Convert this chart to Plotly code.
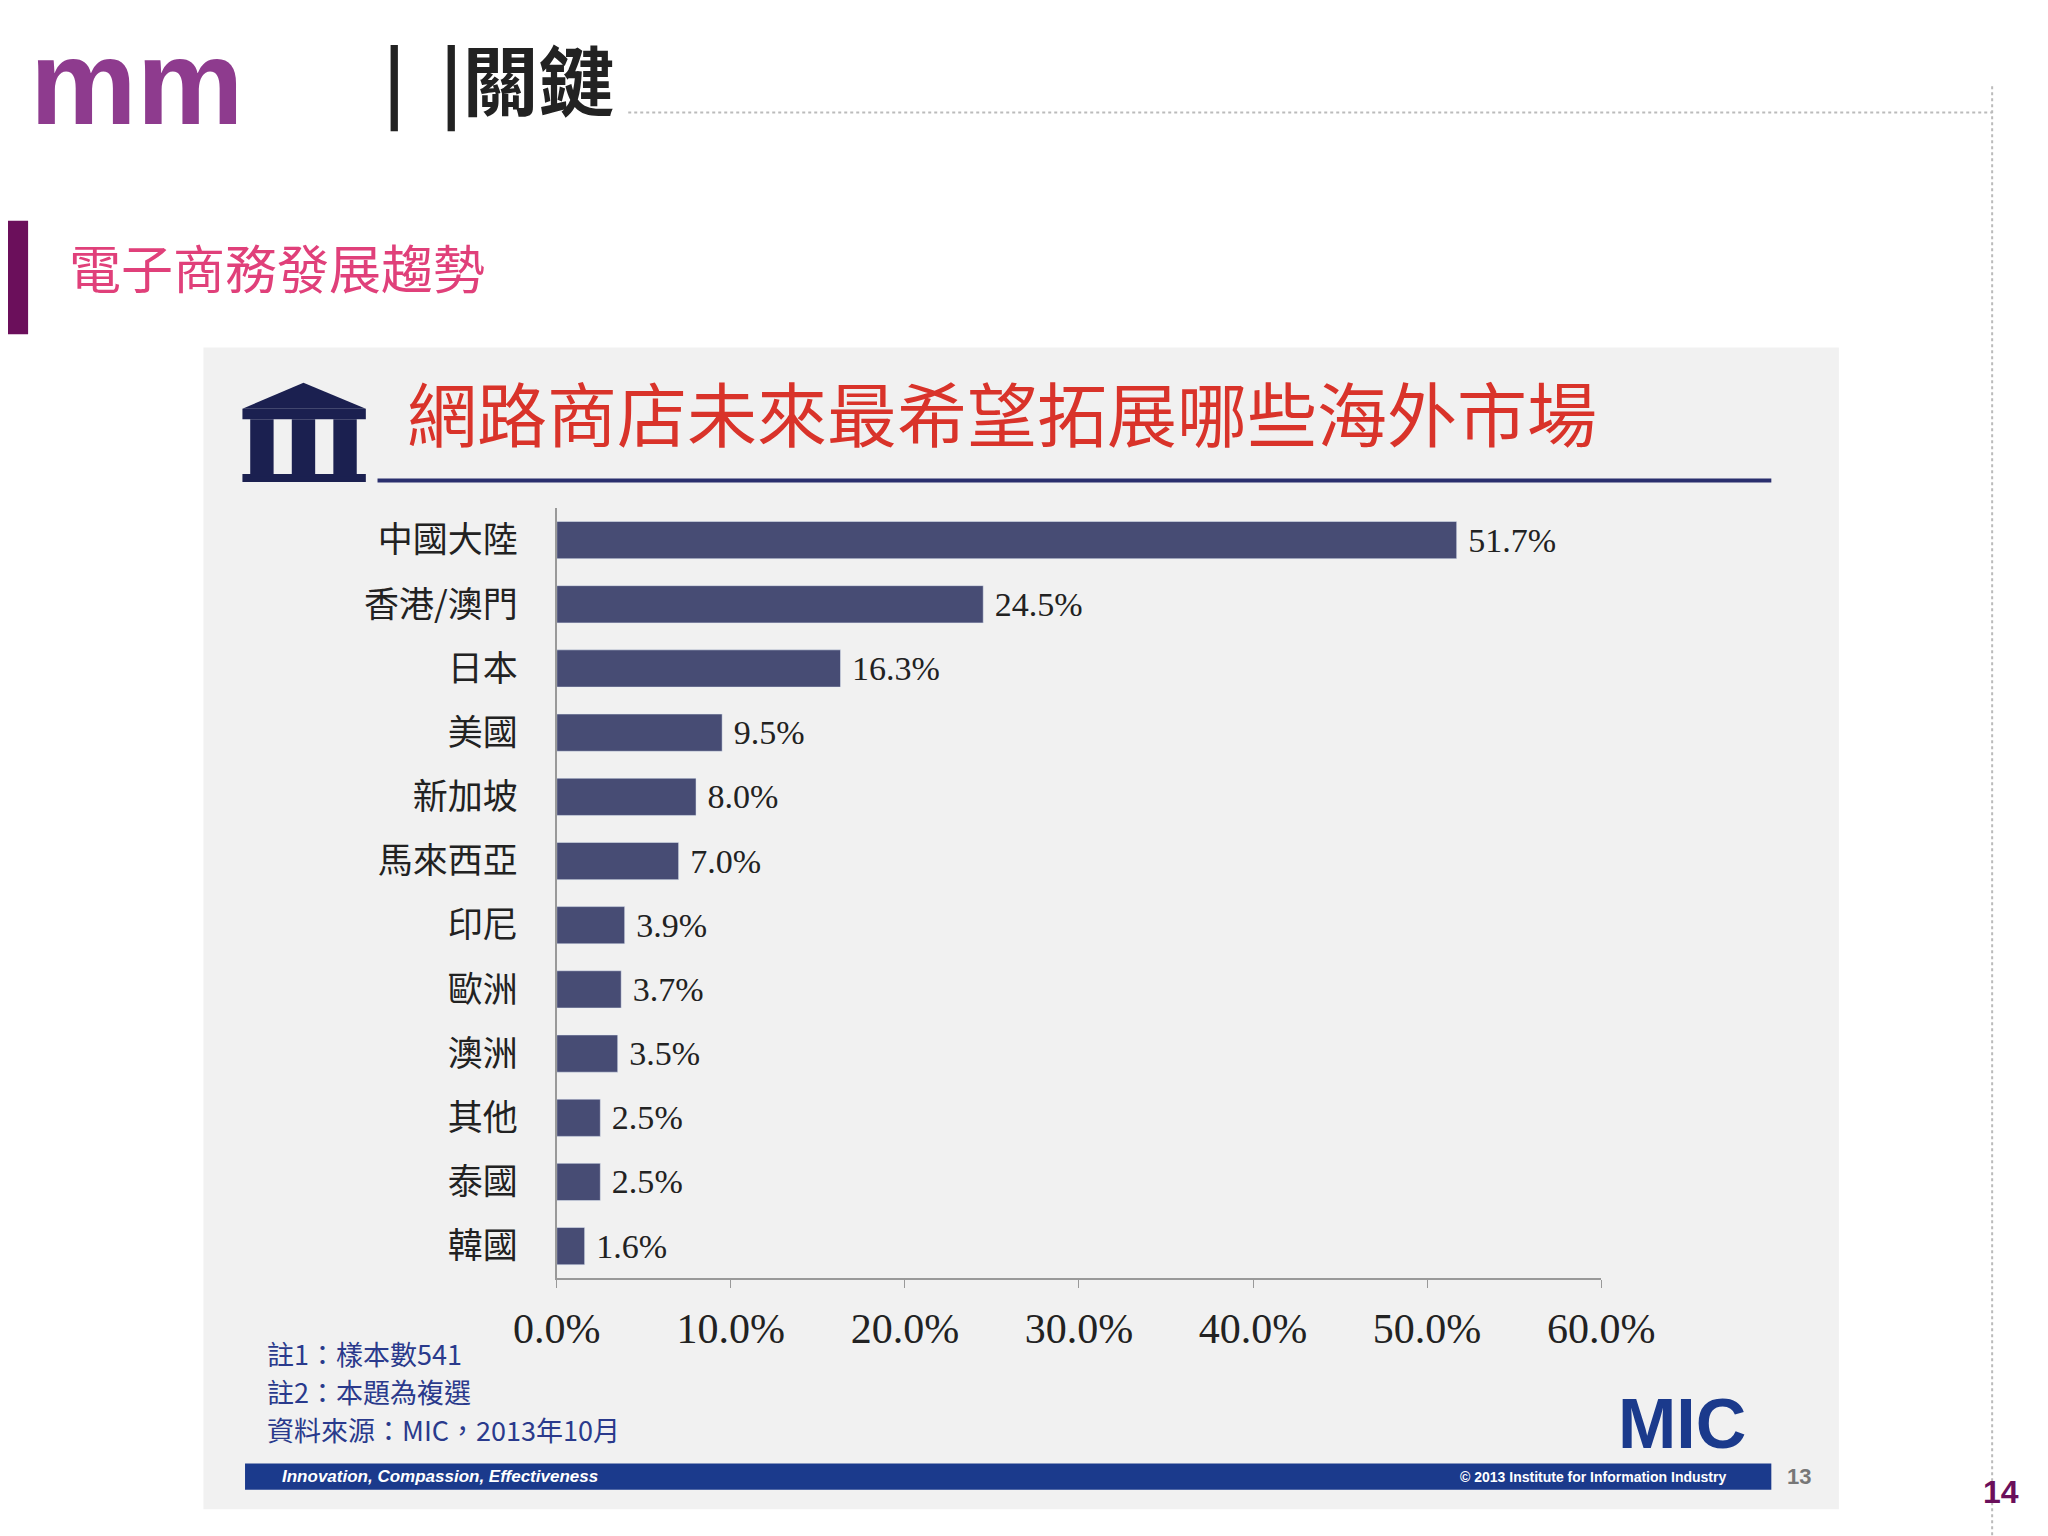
import plotly.graph_objects as go

categories = ["中國大陸","香港/澳門","日本","美國","新加坡","馬來西亞","印尼","歐洲","澳洲","其他","泰國","韓國"]
values = [51.7,24.5,16.3,9.5,8.0,7.0,3.9,3.7,3.5,2.5,2.5,1.6]
tick_vals = [0,10,20,30,40,50,60]

W,H = 2048,1536
def px(r): return (r-36.4)/0.733/W
def py(r): return 1-(r-5)/0.766/H

fig = go.Figure(go.Bar(
    y=categories, x=values, orientation="h", marker_color="#474C74",
    width=0.58, text=[f" {v:.1f}%" for v in values], textposition="outside",
    textfont=dict(family="Liberation Serif", size=43, color="#222"), cliponaxis=False))

fig.update_layout(
    width=W, height=H, margin=dict(l=0,r=0,t=0,b=0),
    paper_bgcolor="white", plot_bgcolor="rgba(0,0,0,0)", showlegend=False,
    xaxis=dict(domain=[px(425),px(1229)], range=[0,60], tickvals=tick_vals,
               ticktext=[f"{t:.1f}%" for t in tick_vals], showgrid=False, zeroline=False,
               showline=True, linecolor="#999", linewidth=2, ticks="outside", ticklen=8,
               tickcolor="#999", tickfont=dict(family="Liberation Serif", size=42, color="#222"),
               ticklabelstandoff=4),
    yaxis=dict(domain=[py(978),py(388)], autorange="reversed", showgrid=False,
               showline=True, linecolor="#999", linewidth=2, ticks="",
               tickfont=dict(family="Noto Sans CJK TC", size=35, color="#222"), ticklabelstandoff=30),
    bargap=0.42,
)

def rect(x0,x1,y0,y1,color,**kw):
    return dict(type="rect", xref="paper", yref="paper", x0=px(x0), x1=px(x1), y0=py(y1), y1=py(y0),
                fillcolor=color, line_width=0, **kw)

shapes = [
    rect(153,1412,265,1155,"#F1F1F1",layer="below"),
    rect(0,18,168,255,"#6B0F5B"),
    dict(type="line", xref="paper", yref="paper", x0=px(287), x1=px(1360), y0=py(367), y1=py(367),
         line=dict(color="#2A2F6E", width=4)),
    rect(185,1360,1120,1140,"#1B3A8C"),
    dict(type="line", xref="paper", yref="paper", x0=px(480), x1=px(1530), y0=py(85), y1=py(85),
         line=dict(color="#BBB", width=2, dash="dot")),
    dict(type="line", xref="paper", yref="paper", x0=px(1530), x1=px(1530), y0=py(65), y1=py(1176),
         line=dict(color="#BBB", width=2, dash="dot")),
    dict(type="path", xref="paper", yref="paper",
         path=f"M {px(183)},{py(312)} L {px(230)},{py(292)} L {px(278)},{py(312)} Z",
         fillcolor="#1B2050", line_width=0),
    rect(183,278,312,320,"#1B2050"),
    rect(183,278,362,368,"#1B2050"),
]
for cx in [198, 230, 262]:
    shapes.append(rect(cx-9,cx+9,320,364,"#1B2050"))
fig.update_layout(shapes=shapes)

ann = [
    dict(x=px(18), y=py(62), text="<b>mm</b>", font=dict(family="Arial", size=120, color="#8E3B8E"),
         xanchor="left", yanchor="middle"),
    dict(x=px(290), y=py(58), text="<b>|  |關鍵</b>", font=dict(family="Noto Sans CJK TC", size=76, color="#222"),
         xanchor="left", yanchor="middle"),
    dict(x=px(48), y=py(203), text="電子商務發展趨勢", font=dict(family="Noto Sans CJK TC", size=52, color="#E0407A"),
         xanchor="left", yanchor="middle"),
    dict(x=px(308), y=py(314), text="網路商店未來最希望拓展哪些海外市場", font=dict(family="Noto Sans CJK TC", size=70, color="#D9332A"),
         xanchor="left", yanchor="middle"),
    dict(x=px(200), y=py(1036), text="註1：樣本數541", font=dict(family="Noto Sans CJK TC", size=27, color="#2A3A8C"),
         xanchor="left", yanchor="middle"),
    dict(x=px(200), y=py(1065), text="註2：本題為複選", font=dict(family="Noto Sans CJK TC", size=27, color="#2A3A8C"),
         xanchor="left", yanchor="middle"),
    dict(x=px(200), y=py(1094), text="資料來源：MIC，2013年10月", font=dict(family="Noto Sans CJK TC", size=27, color="#2A3A8C"),
         xanchor="left", yanchor="middle"),
    dict(x=px(1342), y=py(1090), text="<b>MIC</b>", font=dict(family="Arial", size=70, color="#1B3A8C"),
         xanchor="right", yanchor="middle"),
    dict(x=px(212), y=py(1130), text="<b><i>Innovation, Compassion, Effectiveness</i></b>", font=dict(family="Arial", size=17, color="white"),
         xanchor="left", yanchor="middle"),
    dict(x=px(1327), y=py(1130), text="<b>© 2013 Institute for Information Industry</b>", font=dict(family="Arial", size=14, color="white"),
         xanchor="right", yanchor="middle"),
    dict(x=px(1381), y=py(1130), text="<b>13</b>", font=dict(family="Arial", size=22, color="#777"),
         xanchor="center", yanchor="middle"),
    dict(x=px(1537), y=py(1142), text="<b>14</b>", font=dict(family="Arial", size=32, color="#6B0F5B"),
         xanchor="center", yanchor="middle"),
]
for a in ann:
    a.update(xref="paper", yref="paper", showarrow=False)
fig.update_layout(annotations=ann)

fig.write_html("out.html")
